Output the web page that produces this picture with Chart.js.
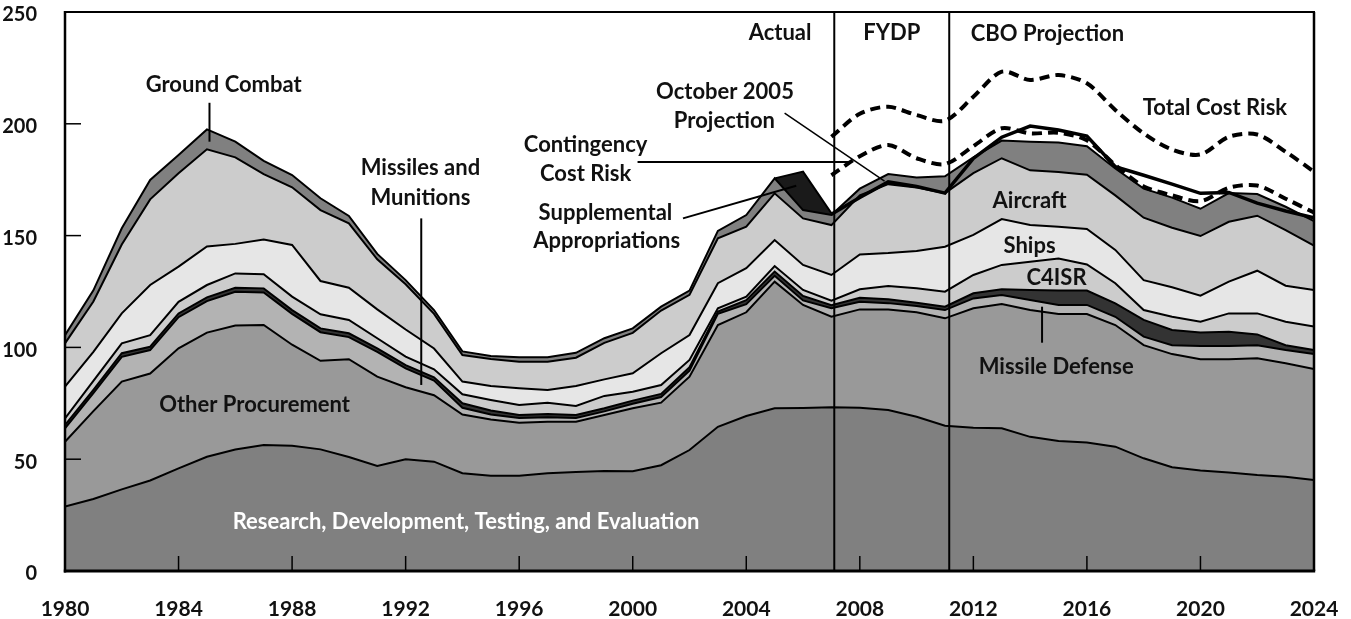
<!DOCTYPE html>
<html>
<head>
<meta charset="utf-8">
<script src="https://cdn.jsdelivr.net/npm/chart.js@4.4.1/dist/chart.umd.min.js"></script>
<style>
  html, body { margin: 0; padding: 0; background: #fff; }
  canvas { display: block; }
</style>
</head>
<body>
<canvas id="chart" width="1351" height="619"></canvas>
<script>
// Years on the horizontal axis
const years = [1980, 1981, 1982, 1983, 1984, 1985, 1986, 1987, 1988, 1989,
  1990, 1991, 1992, 1993, 1994, 1995, 1996, 1997, 1998, 1999,
  2000, 2001, 2002, 2003, 2004, 2005, 2006, 2007, 2008, 2009,
  2010, 2011, 2012, 2013, 2014, 2015, 2016, 2017, 2018, 2019,
  2020, 2021, 2022, 2023, 2024];

// Stacked categories, bottom to top (billions of dollars)
const rdte = [28.8, 32.2, 36.5, 40.5, 45.9, 51.1, 54.3, 56.4, 56.0, 54.4,
  51.0, 47.0, 50.0, 48.9, 43.7, 42.6, 42.6, 43.7, 44.3, 44.7,
  44.6, 47.3, 54.1, 64.5, 69.3, 72.8, 72.9, 73.2, 73.0, 72.0,
  69.0, 65.0, 64.1, 63.8, 60.0, 58.1, 57.5, 55.6, 50.4, 46.4,
  44.9, 44.0, 42.9, 42.2, 40.7];
const otherProc = [29.0, 39.3, 48.2, 47.8, 53.7, 55.5, 55.5, 53.6, 45.2, 39.6,
  43.7, 39.9, 32.2, 29.7, 26.3, 25.2, 23.7, 23.1, 22.5, 25.1,
  28.2, 28.0, 32.8, 45.5, 46.4, 56.6, 46.1, 40.5, 44.0, 45.0,
  46.7, 48.0, 53.4, 55.6, 56.7, 56.8, 57.4, 54.4, 50.6, 50.6,
  49.8, 50.7, 52.2, 50.7, 49.6];
const missiles = [6.0, 8.0, 11.1, 10.5, 13.9, 14.1, 15.1, 14.6, 13.8, 12.8,
  9.9, 11.1, 8.4, 6.6, 3.0, 2.2, 2.1, 2.0, 1.6, 1.6,
  2.0, 2.5, 2.7, 5.0, 3.6, 2.6, 2.0, 3.8, 3.4, 2.8,
  2.8, 3.7, 4.4, 4.0, 4.5, 4.1, 4.1, 3.7, 3.8, 4.0,
  5.9, 5.9, 5.9, 5.9, 6.8];
const missileDefense = [1.5, 1.5, 1.6, 1.5, 1.7, 1.7, 1.8, 1.8, 1.7, 1.7,
  1.7, 1.6, 1.5, 1.4, 2.0, 1.8, 1.4, 1.4, 1.4, 1.4,
  1.4, 1.4, 1.5, 1.0, 1.8, 1.9, 2.0, 1.4, 1.8, 1.7,
  1.5, 1.5, 2.3, 2.6, 4.5, 6.5, 6.4, 6.0, 7.5, 6.8,
  6.1, 6.4, 4.8, 2.2, 1.7];
const c4isr = [3.0, 4.0, 4.4, 5.2, 5.2, 5.5, 6.4, 6.3, 6.0, 6.3,
  6.0, 4.5, 3.8, 3.6, 4.0, 4.7, 4.4, 5.0, 4.0, 5.5,
  4.0, 4.0, 3.3, 1.5, 1.6, 2.5, 2.7, 2.0, 3.8, 6.0,
  6.4, 6.7, 8.2, 10.9, 12.6, 14.3, 11.7, 9.0, 4.4, 5.9,
  4.8, 8.2, 9.4, 10.5, 10.5];
const ships = [14.2, 13.0, 13.4, 22.4, 15.7, 17.2, 13.2, 15.6, 23.1, 14.9,
  14.4, 12.9, 12.1, 9.3, 5.7, 6.2, 7.5, 5.7, 8.9, 7.4,
  8.2, 14.2, 11.1, 11.2, 12.7, 11.6, 11.2, 11.5, 15.6, 14.7,
  16.7, 20.1, 17.9, 20.5, 16.4, 14.2, 15.9, 14.9, 13.4, 13.2,
  11.6, 14.2, 19.1, 16.1, 16.4];
const aircraft = [19.3, 22.5, 30.8, 38.3, 41.8, 43.5, 38.7, 29.2, 25.8, 31.7,
  28.8, 22.4, 20.2, 15.5, 11.9, 12.1, 11.9, 12.7, 12.7, 16.3,
  18.1, 19.1, 18.0, 20.1, 18.6, 20.9, 20.8, 22.3, 26.4, 30.8,
  28.4, 24.0, 27.6, 27.2, 24.5, 24.4, 24.2, 24.4, 27.9, 26.6,
  26.7, 26.8, 24.6, 24.9, 19.8];
const groundCombat = [3.7, 5.0, 7.3, 8.7, 8.1, 8.9, 7.0, 5.9, 5.5, 5.3,
  3.3, 2.4, 1.9, 1.7, 1.6, 1.4, 2.0, 2.0, 2.2, 2.1,
  2.0, 1.7, 1.9, 3.3, 5.2, 6.7, 3.7, 4.5, 3.0, 4.5,
  4.5, 7.5, 7.1, 7.9, 12.8, 13.2, 12.8, 12.0, 13.0, 13.5,
  12.2, 12.8, 9.7, 10.4, 11.0];
const supplemental = [null, null, null, null, null, null, null, null, null, null,
  null, null, null, null, null, null, null, null, null, null,
  null, null, null, null, null, 0, 17.2, 0.8, null, null,
  null, null, null, null, null, null, null, null, null, null,
  null, null, null, null, null];

// Projection-period lines (totals, not stacked)
const projYears = [2007, 2008, 2009, 2010, 2011, 2012, 2013, 2014, 2015,
  2016, 2017, 2018, 2019, 2020, 2021, 2022, 2023, 2024];
const october2005 = [159.5, 167, 174, 172, 169, 184.5, 194, 199, 197.2,
  194.5, 180.8, 177, 173, 168.9, 169.3, 164.5, 161, 158];
const contingencyRisk = [177, 185.5, 190.5, 184.6, 182, 190, 198, 195.7, 196,
  192.6, 181.5, 172, 168, 165.4, 171.4, 172.4, 166.5, 160.3];
const totalRisk = [194.2, 204.5, 207.6, 203.9, 201.4, 212.1, 223.3, 219.6, 221.8,
  218.1, 206.2, 195.7, 188.5, 186.3, 194.2, 195.2, 187.5, 178.6];

const periodBreaks = [2007.1, 2011.15];
const FONT = 'Lato';

// annotation text: [text, year, value, colour]
const notes = [
  ['Ground Combat', 1985.59, 217.4],
  ['Missiles and', 1992.52, 180.2],
  ['Munitions', 1992.52, 166.8],
  ['Other Procurement', 1986.68, 74.2],
  ['Research, Development, Testing, and Evaluation', 1994.13, 22.0, '#fff'],
  ['Actual', 2005.19, 240.6],
  ['FYDP', 2009.13, 240.6],
  ['CBO Projection', 2014.61, 240.2],
  ['October 2005', 2003.25, 214.2],
  ['Projection', 2003.23, 201.3],
  ['Contingency', 1998.34, 190.5],
  ['Cost Risk', 1998.34, 177.5],
  ['Supplemental', 1999.04, 160.1],
  ['Appropriations', 1999.08, 147.6],
  ['Total Cost Risk', 2020.51, 207.1],
  ['Aircraft', 2013.98, 165.5],
  ['Ships', 2013.98, 145.3],
  ['C4ISR', 2014.93, 131.0],
  ['Missile Defense', 2014.92, 91.1]
];
// leader lines: [year1, value1, year2, value2, width]
const leaders = [
  [1985.09, 209.4, 1985.09, 192.0, 2],
  [1992.55, 157.7, 1992.55, 83.2, 2],
  [2005.35, 204.8, 2008.87, 174.4, 1.5],
  [2000.17, 182.9, 2007.67, 182.9, 2],
  [2001.77, 157.7, 2005.76, 172.3, 2],
  [2014.42, 118.2, 2014.42, 102.1, 2]
];

const pts = (xs, ys) => xs.map((x, i) => ({ x, y: ys[i] }));

function area(label, values, color, fill) {
  return {
    label, data: pts(years, values), fill,
    backgroundColor: color, borderColor: '#000', borderWidth: 2,
    pointRadius: 0, tension: 0, stack: 'budget'
  };
}
function overlay(label, values, dash, width, tension) {
  return {
    label, data: pts(projYears, values), fill: false,
    borderColor: '#000', borderWidth: width, borderDash: dash,
    pointRadius: 0, tension, stack: label
  };
}

const decor = {
  id: 'decor',
  afterDatasetsDraw(chart) {
    const { ctx, chartArea: a, scales: { x, y } } = chart;
    const seg = (x1, y1, x2, y2, w) => {
      ctx.lineWidth = w;
      ctx.beginPath(); ctx.moveTo(x1, y1); ctx.lineTo(x2, y2); ctx.stroke();
    };
    ctx.save();
    ctx.strokeStyle = '#000';
    ctx.lineCap = 'butt';
    periodBreaks.forEach(yr => {
      const px = x.getPixelForValue(yr);
      seg(px, a.top, px, a.bottom, 2);
    });
    // inward tick marks
    x.ticks.forEach(t => {
      if (t.value > 1980 && t.value < 2024) {
        const px = x.getPixelForValue(t.value);
        seg(px, a.bottom, px, a.bottom - 15, 1.5);
      }
    });
    y.ticks.forEach(t => {
      if (t.value > 0 && t.value < 250) {
        const py = y.getPixelForValue(t.value);
        seg(a.left, py, a.left + 16, py, 1.5);
      }
    });
    // frame
    seg(a.left - 1, a.top, a.right + 1, a.top, 2);
    seg(a.right, a.top, a.right, a.bottom, 2.5);
    seg(a.left, a.top - 1, a.left, a.bottom + 1.5, 2.5);
    seg(a.left - 1.2, a.bottom, a.right + 1.2, a.bottom, 3);
    // leader lines
    leaders.forEach(([x1, y1, x2, y2, w]) => {
      seg(x.getPixelForValue(x1), y.getPixelForValue(y1),
          x.getPixelForValue(x2), y.getPixelForValue(y2), w);
    });
    // labels
    ctx.font = `bold 22px ${FONT}`;
    ctx.textAlign = 'center';
    ctx.textBaseline = 'middle';
    notes.forEach(([txt, xv, yv, col]) => {
      ctx.fillStyle = col || '#111';
      ctx.fillText(txt, x.getPixelForValue(xv), y.getPixelForValue(yv));
    });
    ctx.restore();
  }
};

function draw() {
  new Chart(document.getElementById('chart'), {
    type: 'line',
    data: {
      datasets: [
        overlay('October 2005 Projection', october2005, [], 3.5, 0),
        overlay('Contingency Cost Risk', contingencyRisk, [10, 6], 4, 0.3),
        overlay('Total Cost Risk', totalRisk, [10, 6], 4, 0.3),
        area('Research, Development, Testing, and Evaluation', rdte, '#808080', 'origin'),
        area('Other Procurement', otherProc, '#999999', '-1'),
        area('Missiles and Munitions', missiles, '#b3b3b3', '-1'),
        area('Missile Defense', missileDefense, '#333333', '-1'),
        area('C4ISR', c4isr, '#cccccc', '-1'),
        area('Ships', ships, '#e6e6e6', '-1'),
        area('Aircraft', aircraft, '#cccccc', '-1'),
        area('Ground Combat', groundCombat, '#808080', '-1'),
        area('Supplemental Appropriations', supplemental, '#1a1a1a', '-1')
      ]
    },
    options: {
      responsive: false,
      devicePixelRatio: 1,
      animation: false,
      layout: { padding: { top: 12, right: 37, left: 0, bottom: 0 } },
      plugins: {
        legend: { display: false },
        tooltip: { enabled: false }
      },
      scales: {
        x: {
          type: 'linear', min: 1980, max: 2024,
          grid: { display: false }, border: { display: false },
          ticks: {
            stepSize: 4, autoSkip: false, maxRotation: 0, padding: 18,
            color: '#111', font: { family: FONT, weight: 'bold', size: 21 },
            callback: v => String(v)
          },
          afterFit: s => { s.height = 48; s.paddingLeft = 0; s.paddingRight = 0; }
        },
        y: {
          stacked: true, min: 0, max: 250,
          grid: { display: false }, border: { display: false },
          ticks: {
            stepSize: 50, padding: 20, labelOffset: 3,
            color: '#111', font: { family: FONT, weight: 'bold', size: 20 }
          },
          afterFit: s => { s.width = 65; s.paddingTop = 0; s.paddingBottom = 0; }
        }
      }
    },
    plugins: [decor]
  });
}

(document.fonts ? document.fonts.load(`bold 22px ${FONT}`) : Promise.resolve())
  .then(draw, draw);
</script>
</body>
</html>
